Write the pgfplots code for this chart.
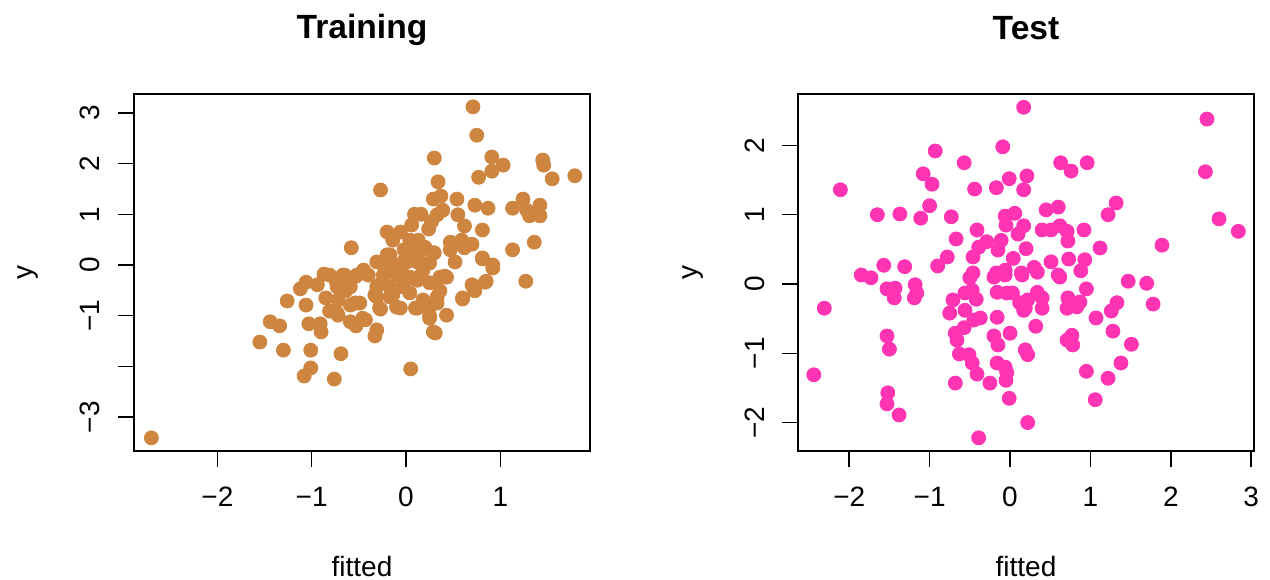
\documentclass[border=0pt]{standalone}
\usepackage{pgfplots}
\pgfplotsset{compat=1.18}
\usepackage{fontspec}
\setmainfont{Liberation Sans}
\definecolor{peru}{RGB}{205,133,63}
\definecolor{maroonone}{RGB}{255,52,179}
\pgfplotsset{
 rstyle/.style={
  scale only axis, width=228pt, height=178.5pt,
  axis line style={line width=0.75pt},
  tick align=outside, tick pos=left,
  major tick length=8pt, tick style={line width=0.75pt, black},
  every tick label/.append style={font=\fontsize{14}{16.8}\selectfont},
  label style={font=\fontsize{14}{16.8}\selectfont},
  title style={font=\fontsize{16.8}{20}\selectfont\bfseries, at={([yshift=21.5pt]axis description cs:0.5,1)}, anchor=base},
  xlabel style={at={([yshift=-62.5pt]axis description cs:0.5,0)}, anchor=base, inner sep=0pt},
  ylabel style={at={([xshift=-50.5pt]axis description cs:0,0.5)}, anchor=base},
  xticklabel style={anchor=north, inner sep=0pt},
  yticklabel style={rotate=90, anchor=base, inner sep=0pt},
  xticklabel shift=10pt, yticklabel shift=9pt,
  xlabel={fitted}, ylabel={y},
 }
}
\begin{document}
\begin{tikzpicture}
\path[use as bounding box] (0,0) rectangle (635pt,289.5pt);
\begin{axis}[rstyle, at={(67pt,64pt)}, anchor=south west,
  title={Training},
  xmin=-2.884, xmax=1.951, ymin=-3.669, ymax=3.373,
  xtick={-2,-1,0,1}, xticklabels={−2,−1,0,1},
  ytick={-3,-2,-1,0,1,2,3}, yticklabels={−3,,−1,0,1,2,3}]
\addplot[only marks, mark=*, mark size=3.5pt, color=peru, mark options={draw=peru, fill=peru}] table {
0.71 3.12
0.75 2.56
0.30 2.11
0.91 2.13
1.03 1.97
0.91 1.85
1.45 2.07
1.46 1.97
1.55 1.70
1.79 1.76
0.77 1.73
0.34 1.64
-0.27 1.48
0.54 1.30
0.29 1.30
0.37 1.36
0.73 1.18
0.87 1.12
1.13 1.12
1.24 1.30
1.42 1.18
1.42 0.97
1.31 0.97
1.28 1.08
0.39 1.08
0.33 0.99
0.27 0.85
0.24 0.71
0.55 0.99
0.62 0.77
0.81 0.69
0.09 1.00
0.16 1.00
0.06 0.79
-0.20 0.65
-0.06 0.65
-0.14 0.49
0.04 0.49
0.13 0.49
0.47 0.45
0.59 0.49
0.70 0.41
0.47 0.30
0.62 0.34
1.13 0.30
1.36 0.45
0.30 0.24
0.15 0.28
-0.20 0.20
-0.31 0.06
-0.02 0.08
0.12 0.06
0.25 0.04
0.52 0.06
0.81 0.12
0.92 0.00
-0.58 0.34
-2.70 -3.41
-1.55 -1.52
-1.30 -1.68
-1.01 -1.68
-0.69 -1.75
-1.01 -2.03
-1.08 -2.19
-0.76 -2.25
-1.44 -1.12
-1.34 -1.20
-1.26 -0.71
-1.06 -0.79
-1.03 -1.16
-0.91 -1.16
-0.90 -1.32
-1.12 -0.47
-1.06 -0.34
-0.94 -0.39
-0.87 -0.18
-0.74 -0.32
-0.65 -0.20
-0.53 -0.22
-0.85 -0.65
-0.72 -0.69
-0.64 -0.51
-0.81 -0.91
-0.72 -0.99
-0.59 -0.79
-0.53 -0.75
-0.59 -1.12
-0.53 -1.20
0.05 -2.05
0.31 -1.34
-0.33 -1.40
-0.31 -1.28
-0.43 -1.08
0.43 -0.99
0.25 -1.00
0.60 -0.67
0.73 -0.51
0.70 -0.39
0.85 -0.32
1.27 -0.32
0.92 -0.06
-0.27 -0.87
-0.06 -0.85
0.10 -0.85
0.22 -0.81
0.33 -0.75
0.36 -0.51
0.41 -0.22
-0.33 -0.59
-0.14 -0.59
0.04 -0.55
-0.49 -0.75
-0.40 -0.20
-0.10 -0.20
0.15 -0.22
-0.28 -0.39
0.25 -0.35
-0.81 -0.20
-0.67 -0.20
-0.52 -0.20
-0.73 -0.43
-0.59 -0.43
-0.24 -0.20
-0.10 -0.16
0.04 -0.24
-0.31 -0.43
-0.17 -0.43
-0.03 -0.43
0.12 -0.30
0.36 -0.24
0.43 -0.24
-0.31 -0.63
-0.17 -0.63
0.18 -0.69
0.33 -0.63
-0.54 -0.75
-0.28 -0.85
-0.10 -0.83
0.12 -0.85
0.25 -0.83
-0.73 -0.95
-0.46 -1.05
0.25 -1.05
0.29 -1.32
0.60 -0.65
0.71 -0.43
0.84 -0.34
0.81 0.14
0.29 0.24
0.13 0.20
0.01 0.06
-0.17 0.20
-0.05 -0.05
0.08 0.12
-0.12 0.00
0.18 -0.10
0.00 -0.30
-0.22 -0.05
0.20 0.35
-0.02 0.30
0.08 0.38
-0.45 -0.10
};
\end{axis}
\begin{axis}[rstyle, at={(399pt,64pt)}, anchor=south west,
  title={Test},
  xmin=-2.637, xmax=3.035, ymin=-2.41, ymax=2.742,
  xtick={-2,-1,0,1,2,3}, xticklabels={−2,−1,0,1,2,3},
  ytick={-2,-1,0,1,2}, yticklabels={−2,−1,0,1,2}]
\addplot[only marks, mark=*, mark size=3.5pt, color=maroonone, mark options={draw=maroonone, fill=maroonone}] table {
0.17 2.55
-0.93 1.92
-0.09 1.98
-0.57 1.75
-1.08 1.59
-0.97 1.44
-2.11 1.36
-0.44 1.37
-0.17 1.39
-0.01 1.52
0.21 1.56
0.17 1.36
-1.65 1.00
-1.37 1.01
-1.11 0.95
-1.00 1.13
-0.73 0.97
-0.41 0.78
-0.67 0.65
-0.06 0.98
0.06 1.02
-0.05 0.85
0.10 0.72
0.17 0.84
-0.29 0.61
-0.39 0.53
-0.11 0.63
-0.15 0.49
-0.46 0.39
0.04 0.37
0.20 0.51
-0.78 0.39
-0.90 0.26
-1.57 0.27
-1.31 0.25
-1.85 0.13
-1.73 0.09
-0.46 0.16
-0.17 0.16
-0.06 0.20
0.14 0.16
2.45 2.38
2.43 1.62
0.63 1.75
0.76 1.63
0.96 1.75
1.32 1.17
1.22 1.00
0.45 1.07
0.60 1.11
2.60 0.94
2.84 0.76
0.40 0.78
0.51 0.78
0.62 0.84
0.71 0.76
0.72 0.62
0.92 0.78
1.12 0.52
1.89 0.56
0.51 0.32
0.73 0.36
0.93 0.35
0.30 0.24
0.34 0.17
0.60 0.13
0.62 0.10
0.88 0.19
1.47 0.04
1.70 0.01
1.78 -0.29
0.95 -0.07
0.34 -0.12
0.40 -0.20
0.40 -0.35
0.22 -0.23
0.19 -0.35
0.72 -0.20
0.87 -0.26
0.71 -0.35
0.83 -0.33
1.07 -0.49
1.33 -0.27
1.26 -0.39
1.28 -0.68
1.51 -0.87
0.32 -0.61
0.77 -0.74
0.71 -0.81
0.78 -0.88
0.22 -1.02
0.19 -0.95
0.95 -1.26
1.22 -1.36
1.38 -1.14
1.06 -1.67
0.22 -2.00
-2.31 -0.35
-2.44 -1.31
-1.53 -0.07
-1.43 -0.06
-1.44 -0.20
-1.18 -0.01
-1.16 -0.13
-1.19 -0.20
-1.53 -0.75
-1.50 -0.94
-1.52 -1.57
-1.53 -1.73
-1.38 -1.89
-0.39 -2.22
-0.71 -0.23
-0.75 -0.42
-0.56 -0.13
-0.47 -0.09
-0.42 -0.22
-0.56 -0.38
-0.45 -0.52
-0.37 -0.49
-0.50 0.09
-0.20 0.10
-0.06 0.13
-0.16 -0.12
-0.04 -0.13
0.03 -0.13
-0.16 -0.48
-0.68 -0.71
-0.57 -0.63
-0.66 -0.81
-0.63 -1.01
-0.51 -1.02
-0.47 -1.14
-0.41 -1.30
-0.68 -1.43
-0.25 -1.43
-0.20 -0.75
-0.15 -0.88
0.00 -0.71
-0.16 -1.14
-0.06 -1.20
-0.04 -1.28
-0.05 -1.39
-0.01 -1.65
0.12 -0.27
0.17 -0.38
0.15 0.13
};
\end{axis}
\end{tikzpicture}
\end{document}
